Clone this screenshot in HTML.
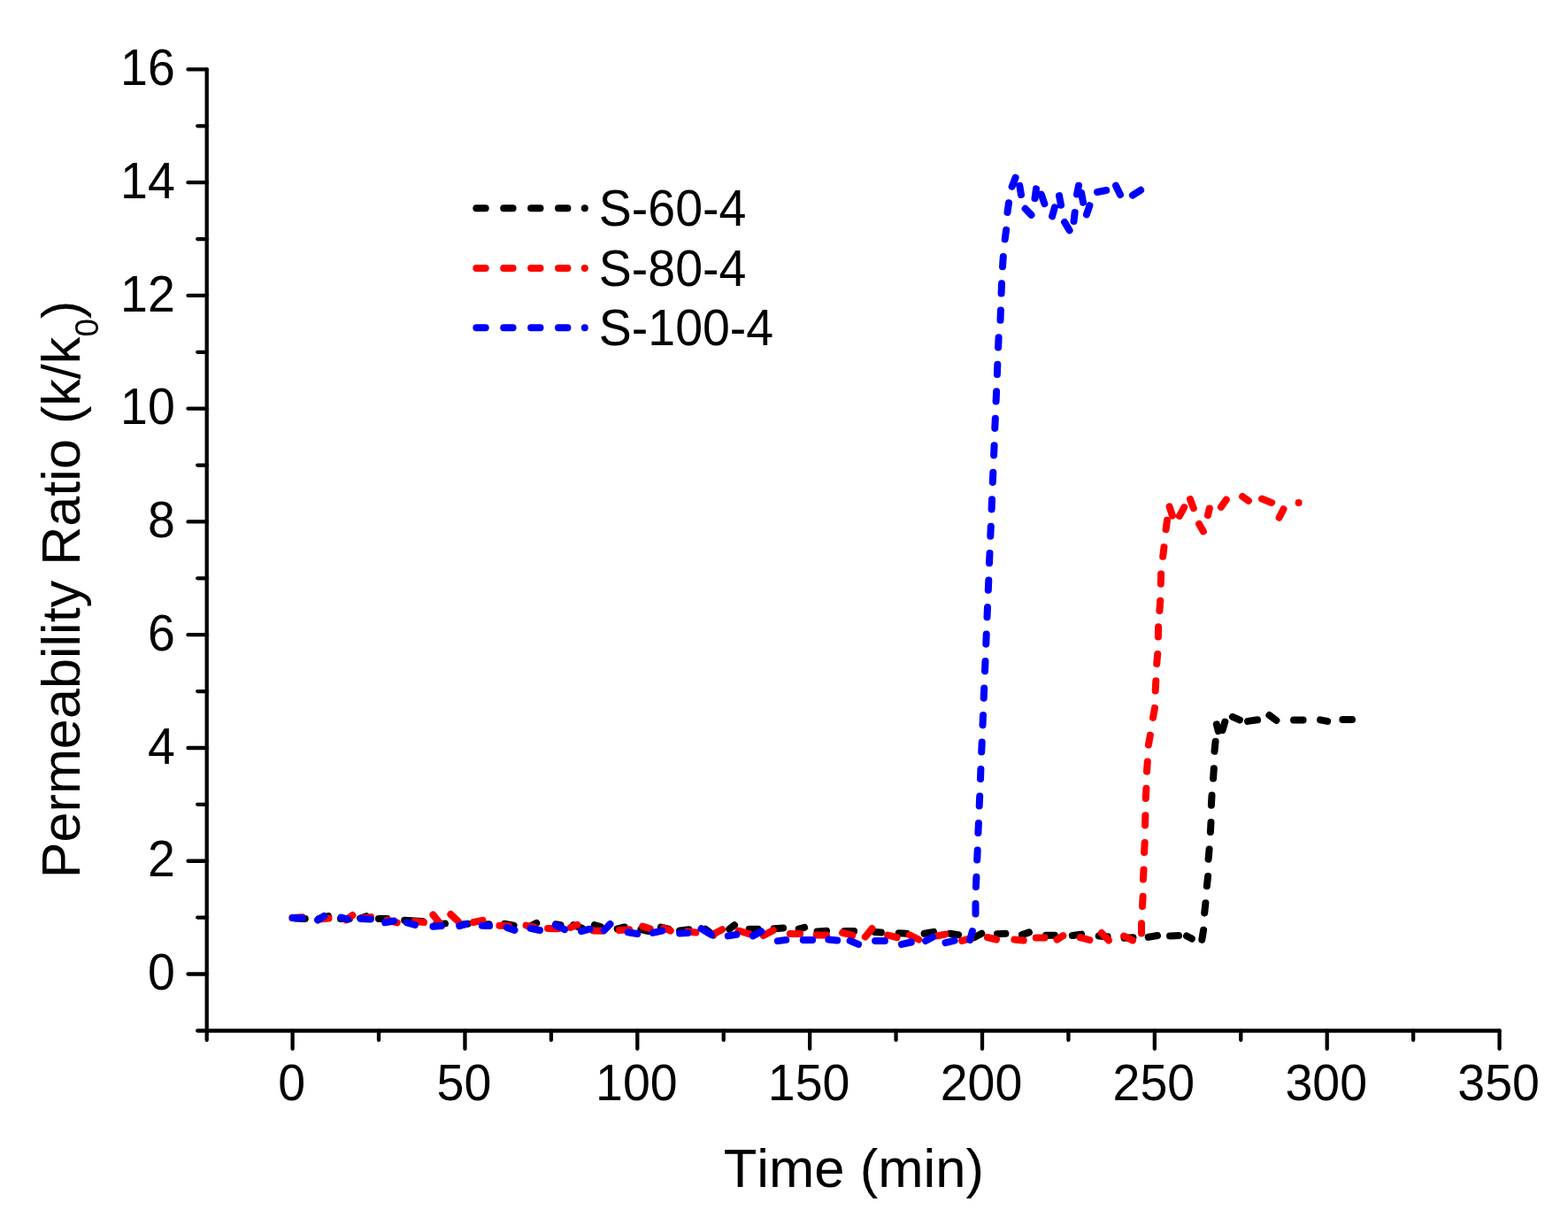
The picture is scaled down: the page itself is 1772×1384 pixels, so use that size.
<!DOCTYPE html>
<html lang="en">
<head>
<meta charset="utf-8">
<title>Permeability Ratio vs Time</title>
<style>
html,body{margin:0;padding:0;background:#fff;}
body{width:1772px;height:1384px;overflow:hidden;}
svg{display:block;}
text{font-family:"Liberation Sans", Arial, Helvetica, sans-serif;fill:#000;font-kerning:none;}
.ax{stroke:#000;stroke-width:4.3;stroke-linecap:round;fill:none;}
.tl{font-size:55.5px;}
.at{font-size:61.6px;}
.lg{font-size:55.5px;}
.d{fill:none;stroke-width:8.0;stroke-linecap:round;stroke-linejoin:round;}
</style>
</head>
<body>
<svg width="1772" height="1384" viewBox="0 0 1772 1384">
<rect width="1772" height="1384" fill="#fff"/>
<g class="ax">
<line x1="233.70" y1="78.40" x2="233.70" y2="1164.50"/>
<line x1="233.70" y1="1164.50" x2="1694.55" y2="1164.50"/>
<line x1="223.20" y1="1164.50" x2="233.70" y2="1164.50"/>
<line x1="212.50" y1="1100.50" x2="233.70" y2="1100.50"/>
<line x1="223.20" y1="1036.62" x2="233.70" y2="1036.62"/>
<line x1="212.50" y1="972.74" x2="233.70" y2="972.74"/>
<line x1="223.20" y1="908.86" x2="233.70" y2="908.86"/>
<line x1="212.50" y1="844.98" x2="233.70" y2="844.98"/>
<line x1="223.20" y1="781.09" x2="233.70" y2="781.09"/>
<line x1="212.50" y1="717.21" x2="233.70" y2="717.21"/>
<line x1="223.20" y1="653.33" x2="233.70" y2="653.33"/>
<line x1="212.50" y1="589.45" x2="233.70" y2="589.45"/>
<line x1="223.20" y1="525.57" x2="233.70" y2="525.57"/>
<line x1="212.50" y1="461.69" x2="233.70" y2="461.69"/>
<line x1="223.20" y1="397.81" x2="233.70" y2="397.81"/>
<line x1="212.50" y1="333.92" x2="233.70" y2="333.92"/>
<line x1="223.20" y1="270.04" x2="233.70" y2="270.04"/>
<line x1="212.50" y1="206.16" x2="233.70" y2="206.16"/>
<line x1="223.20" y1="142.28" x2="233.70" y2="142.28"/>
<line x1="212.50" y1="78.40" x2="233.70" y2="78.40"/>
<line x1="233.70" y1="1164.50" x2="233.70" y2="1175.00"/>
<line x1="330.60" y1="1164.50" x2="330.60" y2="1184.90"/>
<line x1="428.03" y1="1164.50" x2="428.03" y2="1175.00"/>
<line x1="525.45" y1="1164.50" x2="525.45" y2="1184.90"/>
<line x1="622.88" y1="1164.50" x2="622.88" y2="1175.00"/>
<line x1="720.30" y1="1164.50" x2="720.30" y2="1184.90"/>
<line x1="817.73" y1="1164.50" x2="817.73" y2="1175.00"/>
<line x1="915.15" y1="1164.50" x2="915.15" y2="1184.90"/>
<line x1="1012.57" y1="1164.50" x2="1012.57" y2="1175.00"/>
<line x1="1110.00" y1="1164.50" x2="1110.00" y2="1184.90"/>
<line x1="1207.42" y1="1164.50" x2="1207.42" y2="1175.00"/>
<line x1="1304.85" y1="1164.50" x2="1304.85" y2="1184.90"/>
<line x1="1402.28" y1="1164.50" x2="1402.28" y2="1175.00"/>
<line x1="1499.70" y1="1164.50" x2="1499.70" y2="1184.90"/>
<line x1="1597.12" y1="1164.50" x2="1597.12" y2="1175.00"/>
<line x1="1694.55" y1="1164.50" x2="1694.55" y2="1184.90"/>
</g>
<g>
<text class="tl" transform="translate(197.80 1118.10) scale(1.0 1.03)" text-anchor="end">0</text>
<text class="tl" transform="translate(197.80 990.34) scale(1.0 1.03)" text-anchor="end">2</text>
<text class="tl" transform="translate(197.80 862.58) scale(1.0 1.03)" text-anchor="end">4</text>
<text class="tl" transform="translate(197.80 734.81) scale(1.0 1.03)" text-anchor="end">6</text>
<text class="tl" transform="translate(197.80 607.05) scale(1.0 1.03)" text-anchor="end">8</text>
<text class="tl" transform="translate(197.80 479.29) scale(1.0 1.03)" text-anchor="end">10</text>
<text class="tl" transform="translate(197.80 351.52) scale(1.0 1.03)" text-anchor="end">12</text>
<text class="tl" transform="translate(197.80 223.76) scale(1.0 1.03)" text-anchor="end">14</text>
<text class="tl" transform="translate(197.80 96.00) scale(1.0 1.03)" text-anchor="end">16</text>
<text class="tl" transform="translate(329.60 1243.00) scale(1.0 1.03)" text-anchor="middle">0</text>
<text class="tl" transform="translate(524.45 1243.00) scale(1.0 1.03)" text-anchor="middle">50</text>
<text class="tl" transform="translate(719.30 1243.00) scale(1.0 1.03)" text-anchor="middle">100</text>
<text class="tl" transform="translate(914.15 1243.00) scale(1.0 1.03)" text-anchor="middle">150</text>
<text class="tl" transform="translate(1109.00 1243.00) scale(1.0 1.03)" text-anchor="middle">200</text>
<text class="tl" transform="translate(1303.85 1243.00) scale(1.0 1.03)" text-anchor="middle">250</text>
<text class="tl" transform="translate(1498.70 1243.00) scale(1.0 1.03)" text-anchor="middle">300</text>
<text class="tl" transform="translate(1693.55 1243.00) scale(1.0 1.03)" text-anchor="middle">350</text>
</g>
<text class="at" x="817.7" y="1341">Time (min)</text>
<text class="at" style="font-size:61.15px" transform="translate(89.7 992.2) rotate(-90)">Permeability Ratio (k/k<tspan style="font-size:37px" dy="21.5">0</tspan><tspan dy="-21.5">)</tspan></text>
<path class="d" stroke="#000" d="M538.3 235.3h10.4M569.2 235.3h10.4M600.1 235.3h10.4M631 235.3h10.4M660.8 235.3h0.01"/>
<text class="lg" transform="translate(676.80 254.90) scale(1.0 1.03)" text-anchor="start">S-60-4</text>
<path class="d" stroke="#f00" d="M538.3 303h10.4M569.2 303h10.4M600.1 303h10.4M631 303h10.4M660.8 303h0.01"/>
<text class="lg" transform="translate(676.80 322.60) scale(1.0 1.03)" text-anchor="start">S-80-4</text>
<path class="d" stroke="#00f" d="M538.3 370.3h10.4M569.2 370.3h10.4M600.1 370.3h10.4M631 370.3h10.4M660.8 370.3h0.01"/>
<text class="lg" transform="translate(676.80 389.90) scale(1.0 1.03)" text-anchor="start">S-100-4</text>
<path class="d" stroke="#000" d="M333.5 1037.5L344.8 1037.9M360.6 1037.9L371 1035.2M385 1037.9L394.9 1037.9M407.1 1037.5L413.9 1035.2M427.9 1037.9L437.4 1037.9M457.2 1039.7L477.5 1040.9M492.6 1044.7L503 1043.4M520.6 1044.7L528.7 1043.8M544.9 1044.7L552.6 1044.3M570.2 1043.8L580.6 1045.6M598.2 1047L606.3 1042.9M628.1 1044.3L633.5 1045.2M648 1045.2L657.9 1048.8M671.9 1045.2L678.7 1047M697.7 1049.3L705.8 1047.5M724.3 1050.2L732.9 1052M746.9 1047.5L755.4 1049.7M768.1 1051.5L778.6 1050.2M797.1 1049.7L806.1 1056.5M824.2 1049.7L830 1045.2M846.7 1049.7L856.7 1049.7M874.7 1049.3L885.1 1048.4M902.7 1049.7L909.1 1047.9M923.5 1052.4L934 1051.8M954.3 1052L965.1 1052M988.6 1052.9L995.8 1053.4M1015.7 1054.3L1024.7 1054.7M1044.6 1054.7L1055 1052.9M1073.5 1054.7L1083.1 1056.1M1100.7 1059.2L1109.3 1054.7M1126.9 1055.2L1136.4 1054.7M1154.9 1056.1L1163 1053.4M1182 1056.7L1191.9 1056.7M1211.8 1057L1222.1 1055.6M1241.7 1057.4L1251.6 1058.3M1270.6 1059.7L1280.5 1059.2M1297.7 1058.8L1308 1057M1322 1057.4L1332 1057M1341 1057.4L1346.9 1060.6M1358.3 1061.7L1360.1 1050.7M1361.2 1031.4L1362.4 1020.2M1363.9 1001.1L1365.1 989.9M1365.6 970.7L1366.6 959.5M1367.9 940.1L1368.5 928.9M1368.9 909.8L1369.5 898.6M1371.1 879.5L1371.8 868.3M1372.5 848.8L1373.6 837.7M1374.9 818.4L1376.8 825.9M1381.6 824.8L1384.3 815.7M1392.9 809.8L1400.9 813.4M1410 814.9L1421 813.3M1434.4 808L1442.4 813.9M1462 813.4L1472.6 813.4M1492.1 813.3L1500.1 814.9M1517.3 813.1L1528 813.1"/>
<path class="d" stroke="#f00" d="M330.4 1037L341.7 1036.3M360.6 1038.4L371.5 1037.5M391.3 1039.3L398.4 1034.1M408.9 1037.5L419.1 1036.1M437.4 1039.7L448.7 1042.4M468.5 1041L479 1042M489.4 1033.4L496.6 1042.5M509.3 1033L517.9 1041.1M535 1042L545.4 1039.8M564.4 1045.8L574.7 1046.1M594.6 1045.6L603.6 1047.4M619 1049L630 1049.3M644.8 1047.9L652.5 1044.8M670.6 1051.5L681.4 1051.7M699.9 1051.1L711.2 1050.2M726.1 1046.6L734.7 1049.3M750 1048.4L757.7 1051.5M776.8 1052.6L786.3 1053.5M807 1055.1L816 1050.2M834.6 1051.5L846.7 1055.1M862.6 1057L873.8 1051.1M892.8 1054.9L904.1 1054.9M922.6 1056.5L934 1056.5M952.1 1053.8L963.3 1056.7M977.8 1058.5L985.5 1049.1M1003.1 1056.5L1013.5 1059.2M1027.9 1056.4L1038.3 1061.5M1059.1 1057.4L1068.1 1055.6M1087.2 1062.9L1097.1 1060.1M1116 1059L1126 1061.5M1146.3 1061.5L1156.7 1062.6M1170.7 1059.5L1180.6 1059.5M1194.6 1061.5L1201.4 1057.2M1220.8 1059.2L1231.3 1062M1244.8 1054L1253 1062.4M1270.1 1057.6L1280 1062.4M1290 1054.5L1290 1043.3M1291 1024L1291.6 1012.8M1291.9 993.6L1292.5 982.4M1293.1 963.1L1293.7 951.9M1294 932.4L1294.4 921.2M1294.8 902L1295.4 890.8M1296 871.6L1296.8 860.4M1297.9 841.6L1299.9 830.6M1303 810.9L1305 799.9M1305.7 780.5L1306.3 769.3M1307.2 750.1L1308.2 738.9M1308.9 719.5L1309.1 708.3M1310.4 690L1311.2 678.8M1311.8 659.7L1312.1 648.5M1314.2 628.8L1315.5 618.1M1317.6 598.1L1319 587.7M1321.6 572.4L1324.9 582.6M1332.8 583.1L1338.3 573.1M1345 564L1348.8 574.2M1355.1 592L1359.9 600.4M1365 582.1L1366.8 574.5M1379.9 572.9L1385.8 564.5M1404.1 561L1410.9 565.8M1426 563.6L1437.1 567.9M1445.6 584.8L1450.5 575.2M1467.6 568.1L1467.6 568.1"/>
<path class="d" stroke="#00f" d="M330.6 1037L341.7 1037.2M359 1039.5L366.2 1035M385.5 1036.6L393.1 1038.6M408 1037.9L418.9 1038.4M435.1 1042.3L445.1 1040.5M460 1042.4L469 1045M489.4 1046.7L498.9 1046.1M519.2 1046.1L526.9 1043.8M544.9 1045.8L553.1 1046.1M572.9 1047.9L581.5 1051M599.6 1048.8L610 1051M627.7 1045.2L638.1 1050.2M657 1052L666.5 1049.7M682.8 1051.1L689.5 1043.9M709.8 1053.3L720.2 1055M737.8 1053.8L748.2 1051.5M768.1 1054.4L777.2 1054.1M792.6 1049.3L803.9 1056M822.8 1057.4L832.3 1055.9M850.8 1057.4L860.3 1052.4M878.8 1063.1L888.3 1061.9M907.7 1062.1L918.1 1062.1M936.3 1061.5L946.2 1062.4M960.6 1062.9L970.1 1066.9M989.1 1062.9L999.9 1062.9M1018.9 1066.9L1029.7 1064.5M1046 1063L1054.1 1058.8M1068.5 1065.1L1078.6 1062.6M1096.2 1062L1098.9 1052M1102.5 1032.5L1102.5 1021M1102.9 1002L1103.4 990.8M1104.2 971.5L1104.7 960.4M1105.4 941.1L1105.9 929.9M1106.7 910.6L1107.2 899.4M1108 880.1L1108.4 868.9M1109.2 849.6L1109.7 838.5M1110.5 819.2L1111 808M1111.7 788.7L1112.2 777.5M1113 758.2L1113.5 747M1114.3 727.7L1114.7 716.6M1115.5 697.3L1116 686.1M1116.8 666.8L1117.3 655.6M1118 636.3L1118.5 625.1M1119.3 605.8L1119.8 594.7M1120.6 575.4L1121 564.2M1121.8 544.9L1122.3 533.7M1123.1 514.4L1123.6 503.2M1124.3 483.9L1124.8 472.8M1125.6 453.5L1126.1 442.3M1126.9 423L1127.3 411.8M1128.1 392.5L1128.6 381.3M1130.5 361.8L1130.9 350.6M1131.6 331.5L1132 320.3M1133 301.2L1133.8 290M1135.7 270.3L1137.1 259.7M1138.5 239.9L1140 229.2M1143.6 210.9L1147.6 200.7M1152.3 209.9L1154 220M1158.6 235.8L1165.5 242.9M1169.5 224.1L1171 213.4M1176.7 219.5L1180.4 230.2M1189.1 244.4L1191.9 234.3M1197 221.1L1199 231.7M1203.1 251L1208.6 260.2M1213.5 250L1214.7 239.9M1217 219.5L1219 209.7M1222.1 218L1224.1 228.7M1227.9 242.4L1231.4 232.2M1240.1 217L1250.2 215M1261 209.7L1266 220M1280 220.6L1289.1 214.8"/>
</svg>
</body>
</html>
